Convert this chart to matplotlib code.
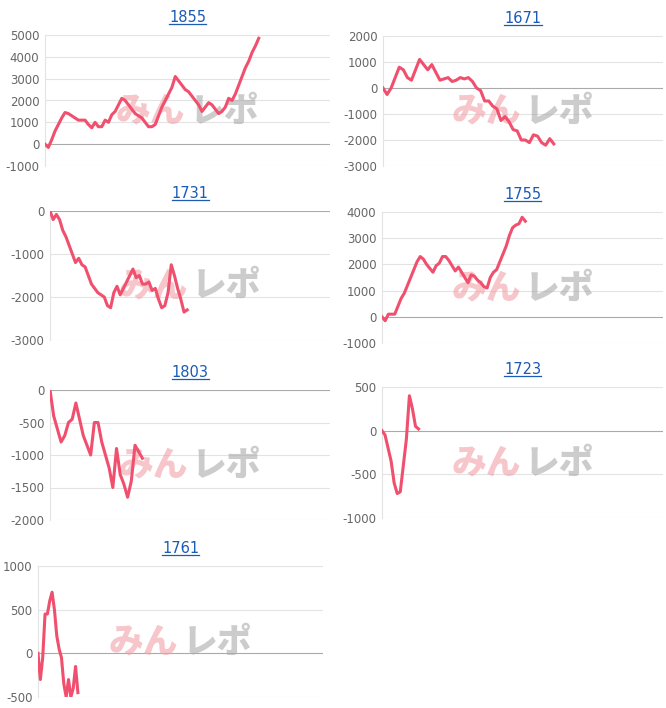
import matplotlib
matplotlib.use("Agg")
import matplotlib.pyplot as plt
from matplotlib.lines import Line2D
import numpy as np

titles = ["1855", "1671", "1731", "1755", "1803", "1723", "1761"]
s1855 = [0,-150,200,600,900,1200,1450,1400,1300,1200,1100,1100,1100,900,750,1000,800,800,1100,1000,1350,1500,1800,2100,2000,1800,1600,1400,1300,1200,1000,800,800,900,1300,1700,2000,2300,2600,3100,2900,2700,2500,2400,2200,2000,1800,1500,1700,1900,1800,1600,1400,1500,1700,2100,2000,2300,2700,3100,3500,3800,4200,4500,4850]
s1671 = [0,-250,0,400,800,700,400,300,700,1100,900,700,900,600,300,350,400,250,300,400,350,400,250,0,-100,-500,-500,-700,-800,-1250,-1100,-1300,-1600,-1650,-2000,-2000,-2100,-1800,-1850,-2100,-2200,-1950,-2150]
s1731 = [0,-200,-80,-200,-450,-600,-800,-1000,-1200,-1100,-1250,-1300,-1500,-1700,-1800,-1900,-1950,-2000,-2200,-2250,-1900,-1750,-1950,-1800,-1650,-1500,-1350,-1550,-1500,-1700,-1700,-1650,-1850,-1800,-2050,-2250,-2200,-1900,-1250,-1500,-1800,-2050,-2350,-2300]
s1755 = [0,-150,100,100,100,400,700,900,1200,1500,1800,2100,2300,2200,2000,1850,1700,1950,2050,2300,2300,2150,1950,1750,1900,1700,1500,1300,1600,1550,1400,1300,1150,1100,1500,1700,1800,2100,2400,2700,3100,3400,3500,3550,3800,3650]
s1803 = [0,-400,-600,-800,-700,-500,-450,-200,-450,-700,-850,-1000,-500,-500,-800,-1000,-1200,-1500,-900,-1300,-1450,-1650,-1400,-850,-950,-1050]
s1723 = [0,-50,-200,-350,-600,-720,-700,-400,-100,400,250,50,20]
s1761 = [0,-300,-50,450,450,600,700,500,200,50,-50,-350,-500,-300,-500,-400,-150,-450]
series = [s1855, s1671, s1731, s1755, s1803, s1723, s1761]
yranges = [(-1000,5000,1000),(-3000,2000,1000),(-3000,0,1000),(-1000,4000,1000),(-2000,0,500),(-1000,500,500),(-500,1000,500)]
fracs = [0.75,0.61,0.49,0.51,0.33,0.13,0.14]

W, H = 666, 708
boxes = [(45,35,330,166),(383,36,663,166),(50,211,330,340),(382,212,663,343),
         (50,390,330,520),(382,387,663,518),(38,566,323,697)]

fig = plt.figure(figsize=(W/100, H/100), dpi=100)
title_texts = []
for t, s, yr, fr, (l, tp, r, b) in zip(titles, series, yranges, fracs, boxes):
    ax = fig.add_axes([l/W, 1-b/H, (r-l)/W, (b-tp)/H])
    n = len(s)
    x = np.arange(n)
    ax.plot(x, s, color="#f0506e", lw=2.2, solid_joinstyle="round", zorder=3)
    ax.set_xlim(0, (n-1)/fr)
    ax.set_ylim(yr[0], yr[1])
    ticks = np.arange(yr[0], yr[1]+1, yr[2])
    ax.set_yticks(ticks)
    ax.set_yticklabels([str(int(v)) for v in ticks])
    ax.set_xticks([])
    for v in ticks:
        ax.axhline(v, color="#aaaaaa" if v == 0 else "#e3e3e3", lw=0.8, zorder=1)
    for sp in ["top", "right", "bottom"]:
        ax.spines[sp].set_visible(False)
    ax.spines["left"].set_color("#e3e3e3")
    ax.tick_params(axis="y", length=0, labelsize=8.5, labelcolor="#666666", pad=4)
    ax.set_facecolor("none")
    tt = ax.text(0.5, 1.08, t, transform=ax.transAxes,
                 ha="center", va="bottom", color="#1a5bb5", fontsize=10.5)
    title_texts.append(tt)
    ax.text(0.37, 0.42, "みん", transform=ax.transAxes, ha="center", va="center",
            fontsize=25, fontweight="black", color="#f0a0a8", alpha=0.6,
            family=["Noto Sans CJK JP"], zorder=2)
    ax.text(0.63, 0.42, "レポ", transform=ax.transAxes, ha="center", va="center",
            fontsize=25, fontweight="black", color="#aaaaaa", alpha=0.6,
            family=["Noto Sans CJK JP"], zorder=2)

fig.canvas.draw()
rend = fig.canvas.get_renderer()
for tt in title_texts:
    bb = tt.get_window_extent(rend)
    y = bb.y0 + 1
    fig.add_artist(Line2D([bb.x0/W, bb.x1/W], [y/H, y/H], color="#1a5bb5", lw=0.9,
                          transform=fig.transFigure))

fig.savefig("out.png", dpi=100, facecolor="white")
